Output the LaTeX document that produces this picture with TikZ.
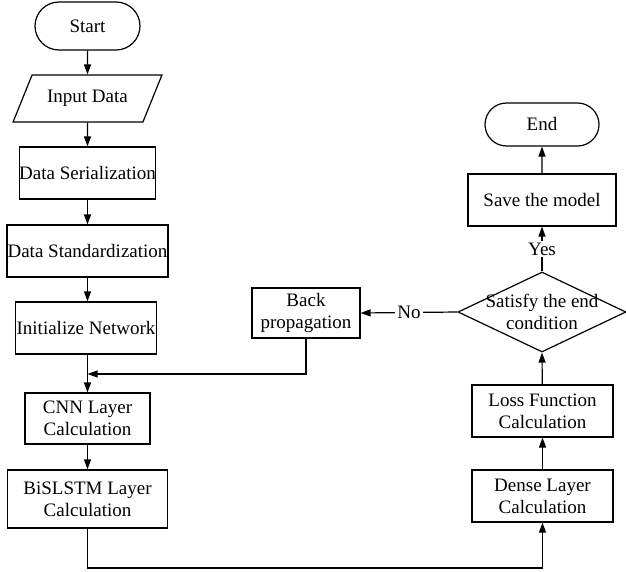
\documentclass[tikz,border=0pt]{standalone}
\usepackage{fontspec}
\setmainfont{Liberation Serif}
\usetikzlibrary{arrows.meta,shapes.geometric,shapes.misc}
\begin{document}
\begin{tikzpicture}[x=1pt,y=-1pt,line width=1.2pt,
  >={Triangle[length=10pt,width=7pt]},
  every node/.style={font=\fontsize{19}{22}\selectfont,inner sep=0pt},
  box/.style={draw,rectangle,align=center},
  term/.style={draw,rounded rectangle},
  io/.style={draw,trapezium,trapezium left angle=50,trapezium right angle=130,trapezium stretches=true},
  lbl/.style={fill=white,inner sep=2pt}]
\useasboundingbox (0,0) rectangle (626,572);
% left column
\node[term,minimum width=105pt,minimum height=48pt] (start) at (87.5,26) {Start};
\node[io,minimum width=149pt,minimum height=47pt] (in) at (87.5,98.5) {Input Data};
\node[box,minimum width=135pt,minimum height=52pt] (ser) at (87.5,173) {Data Serialization};
\node[box,minimum width=161pt,minimum height=52pt] (std) at (87.5,251) {Data Standardization};
\node[box,minimum width=141pt,minimum height=52pt] (init) at (86,328) {Initialize Network};
\node[box,minimum width=125pt,minimum height=51pt] (cnn) at (87.5,418.5) {CNN Layer\\Calculation};
\node[box,minimum width=160pt,minimum height=58pt] (bis) at (87.5,499) {BiSLSTM Layer\\Calculation};
% middle
\node[box,minimum width=108pt,minimum height=50pt] (back) at (306,313) {Back\\propagation};
% right column
\node[term,minimum width=114pt,minimum height=43pt] (end) at (542,124.5) {End};
\node[box,minimum width=148pt,minimum height=52pt] (save) at (542,200) {Save the model};
\node[draw,diamond,minimum width=168pt,minimum height=80pt] (dec) at (542,312) {};
\node[align=center] (dectext) at (dec) {Satisfy the end\\condition};
\node[box,minimum width=141pt,minimum height=52pt] (loss) at (542.5,411) {Loss Function\\Calculation};
\node[box,minimum width=141pt,minimum height=52pt] (dense) at (542.5,496) {Dense Layer\\Calculation};
\coordinate (jy) at (0,374);
\coordinate (by) at (0,568);
% connectors
\draw[->] (start) -- (in);
\draw[->] (in) -- (ser);
\draw[->] (ser) -- (std);
\draw[->] (std) -- (std.south |- init.north);
\draw[->] (init.south -| std.south) -- (cnn);
\draw[->] (back.south) -- (back.south |- jy) -- (std.south |- jy);
\draw[->] (cnn) -- (bis);
\draw[->] (bis.south) -- (bis.south |- by) -| (dense.south);
\draw[->] (dense) -- (loss);
\draw[->] (loss) -- (dec.south);
\draw[->] (dec.north) -- (save.south) node[midway,lbl] (yes) {Yes};
\draw[->] (save) -- (end);
\draw[->] (dec.west) -- (back.east) node[midway,lbl] (no) {No};
\end{tikzpicture}
\end{document}
